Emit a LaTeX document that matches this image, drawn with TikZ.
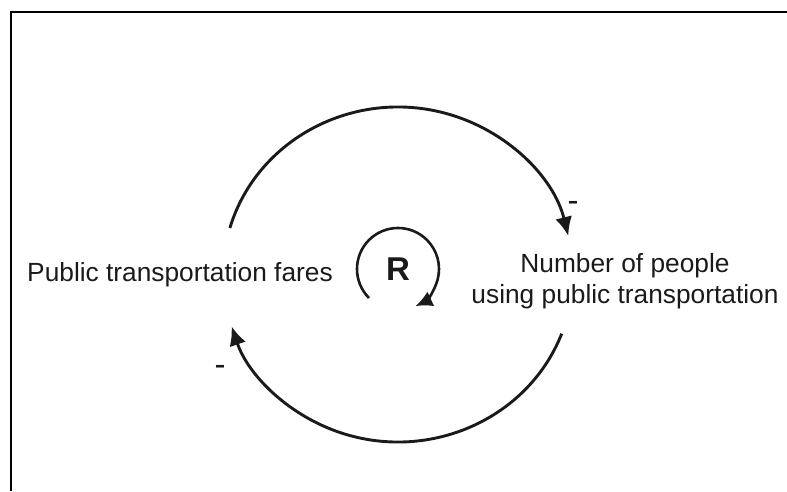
\documentclass[tikz,border=0pt]{standalone}
\usepackage{fontspec}
\setmainfont{Liberation Sans}
\usepackage{tikz}
\usetikzlibrary{arrows.meta,positioning}
\definecolor{ink}{HTML}{1A1A1A}
\tikzset{
  lbl/.style={font=\fontsize{26.3}{31}\selectfont,text=ink,align=center,inner sep=0pt},
  sign/.style={lbl,font=\fontsize{33}{33}\selectfont,anchor=base},
  arr/.style={-{Latex[length=19pt,width=17pt]},line width=2.9pt,draw=ink},
  sarr/.style={-{Latex[length=17pt,width=16pt]},line width=2.6pt,draw=ink},
}
\begin{document}
\begin{tikzpicture}[x=1pt,y=1pt]
  \useasboundingbox (0,0) rectangle (787,491);
  % frame, cut at right and bottom
  \draw[line width=2.2pt,draw=black] (787,479) -- (11.3,479) -- (11.3,0);
  % variables
  \node[lbl,anchor=base] (fares) at (180,209.5) {Public transportation fares};
  \node[lbl,anchor=base] (people) at (625,188) {Number of people\\using public transportation};
  \coordinate (loop) at (398,216.5);
  \coordinate (rloop) at (398,222);
  % causal links
  \draw[arr] (loop) ++(163.9:175 and 167.5) arc[start angle=163.9,end angle=13.3,x radius=175,y radius=167.5];
  \draw[arr] (loop) ++(-20.7:175 and 167.5) arc[start angle=-20.7,end angle=-162,x radius=175,y radius=167.5];
  \node[sign] (signA) at (573,279.5) {-};
  \node[sign] (signB) at (220,115.5) {-};
  % loop marker
  \node[lbl,font=\fontsize{33}{33}\selectfont\bfseries] (R) at (rloop) {R};
  \draw[sarr] (rloop) ++(225:41) arc[start angle=225,end angle=-65,radius=41];
\end{tikzpicture}
\end{document}
